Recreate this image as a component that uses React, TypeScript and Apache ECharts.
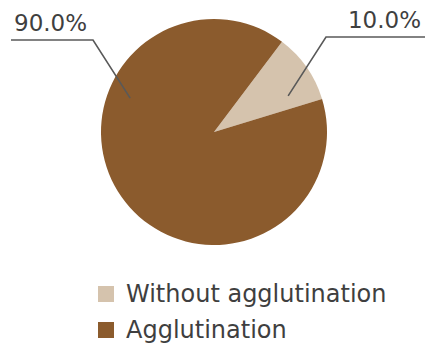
import React, { useEffect, useRef } from "react";
import * as echarts from "echarts";

// Share of samples per outcome (percent)
const categories = ["Without agglutination", "Agglutination"];
const shares = [10, 90];
const colors = ["#d5c3ad", "#8b5b2d"];

// Pie geometry (px)
const CX = 214;
const CY = 132;
const R = 113;

// Guide line geometry for each label: where the line starts inside the slice
// (angle in degrees, fraction of radius), its elbow, and the horizontal run.
const GUIDES = [
  { angle: 26, r: 0.73, elbowX: 326, lineY: 37, side: "right", edge: 3 },
  { angle: 158, r: 0.8, elbowX: 93, lineY: 40, side: "left", edge: 11 },
];

const FONT = "'DejaVu Sans', sans-serif";
const TEXT = "#3f3f3f";

export default function App() {
  const ref = useRef<HTMLDivElement>(null);

  useEffect(() => {
    if (!ref.current) return;
    const chart = echarts.init(ref.current, undefined, { renderer: "svg" });
    const width = 428;
    const pieData = categories.map((name, i) => ({ name, value: shares[i] }));
    const pieBase = {
      type: "pie",
      center: [CX, CY],
      radius: R,
      startAngle: 53,
      clockwise: true,
      data: pieData,
      emphasis: { disabled: true },
      silent: true,
    };

    chart.setOption({
      animation: false,
      backgroundColor: "#ffffff",
      color: colors,
      legend: {
        orient: "vertical",
        left: 98,
        top: 281,
        padding: 0,
        icon: "rect",
        itemWidth: 16,
        itemHeight: 16,
        itemGap: 10,
        textStyle: {
          fontFamily: FONT,
          fontSize: 24,
          color: TEXT,
          padding: [0, 0, 0, 7],
          lineHeight: 26,
        },
        data: categories,
      },
      series: [
        // Visible slices
        {
          ...pieBase,
          z: 2,
          itemStyle: { borderWidth: 0 },
          label: { show: false },
          labelLine: { show: false },
        },
        // Transparent copy on top, carrying the percentage labels and guides
        {
          ...pieBase,
          z: 3,
          itemStyle: { color: "rgba(0,0,0,0)", borderWidth: 0 },
          label: {
            show: true,
            position: "outside",
            overflow: "none",
            fontFamily: FONT,
            fontSize: 23,
            color: TEXT,
            formatter: (p: any) => `${Number(p.percent).toFixed(1)}%`,
          },
          labelLine: {
            show: true,
            showAbove: true,
            lineStyle: { color: "#595959", width: 1.6 },
          },
          labelLayout: (params: any) => {
            const g = GUIDES[params.dataIndex];
            const rad = (g.angle * Math.PI) / 180;
            const start = [CX + R * g.r * Math.cos(rad), CY - R * g.r * Math.sin(rad)];
            const elbow = [g.elbowX, g.lineY];
            const endX = g.side === "left" ? g.edge : width - g.edge;
            const end = [endX, g.lineY];
            return {
              x: g.side === "left" ? endX + 3 : endX - 4,
              y: g.lineY - 17,
              align: g.side === "left" ? "left" : "right",
              verticalAlign: "middle",
              labelLinePoints: [start, elbow, end],
            };
          },
        },
      ],
    });

    return () => chart.dispose();
  }, []);

  return (
    <div
      ref={ref}
      style={{ position: "fixed", left: 0, top: 0, width: 428, height: 350 }}
    />
  );
}
